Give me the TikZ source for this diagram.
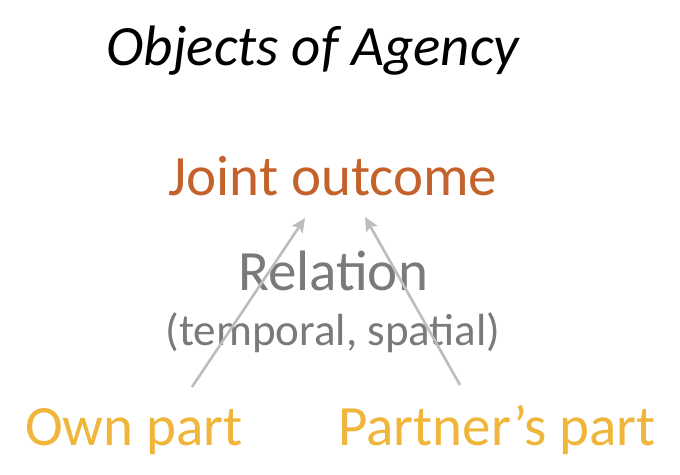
\documentclass[tikz,border=0pt]{standalone}
\usepackage{fontspec}
\setmainfont{Carlito}
\usetikzlibrary{arrows.meta}
\definecolor{jointc}{HTML}{C3622A}
\definecolor{relc}{HTML}{7A7A7A}
\definecolor{partc}{HTML}{F0B63C}
\definecolor{arrc}{HTML}{BDBDBD}
\tikzset{
  lbl/.style={inner sep=0pt, anchor=base, font=\fontsize{57}{60}\selectfont},
  conn/.style={draw=arrc, line width=2.6pt, -{Stealth[length=14pt,width=13pt,inset=3pt]}}
}
\begin{document}
\begin{tikzpicture}[x=1pt,y=-1pt]
\useasboundingbox[fill=white] (0,0) rectangle (680,474);
\node[lbl, font=\fontsize{57}{60}\selectfont\itshape] (title) at (313,65) {Objects of Agency};
\node[lbl, text=jointc] (joint) at (333,195) {Joint outcome};
\node[lbl, text=relc] (rel) at (333,290) {Relation};
\node[lbl, text=relc, font=\fontsize{45}{48}\selectfont] (temp) at (333,345) {(temporal, spatial)};
\node[lbl, text=partc] (own) at (134,445) {Own part};
\node[lbl, text=partc] (partner) at (497,445) {Partner’s part};
\coordinate (a1s) at (192,387);
\coordinate (a1e) at (305,218);
\coordinate (a2s) at (460,385);
\coordinate (a2e) at (365,217);
\draw[conn] (a1s) -- (a1e);
\draw[conn] (a2s) -- (a2e);
\end{tikzpicture}
\end{document}
